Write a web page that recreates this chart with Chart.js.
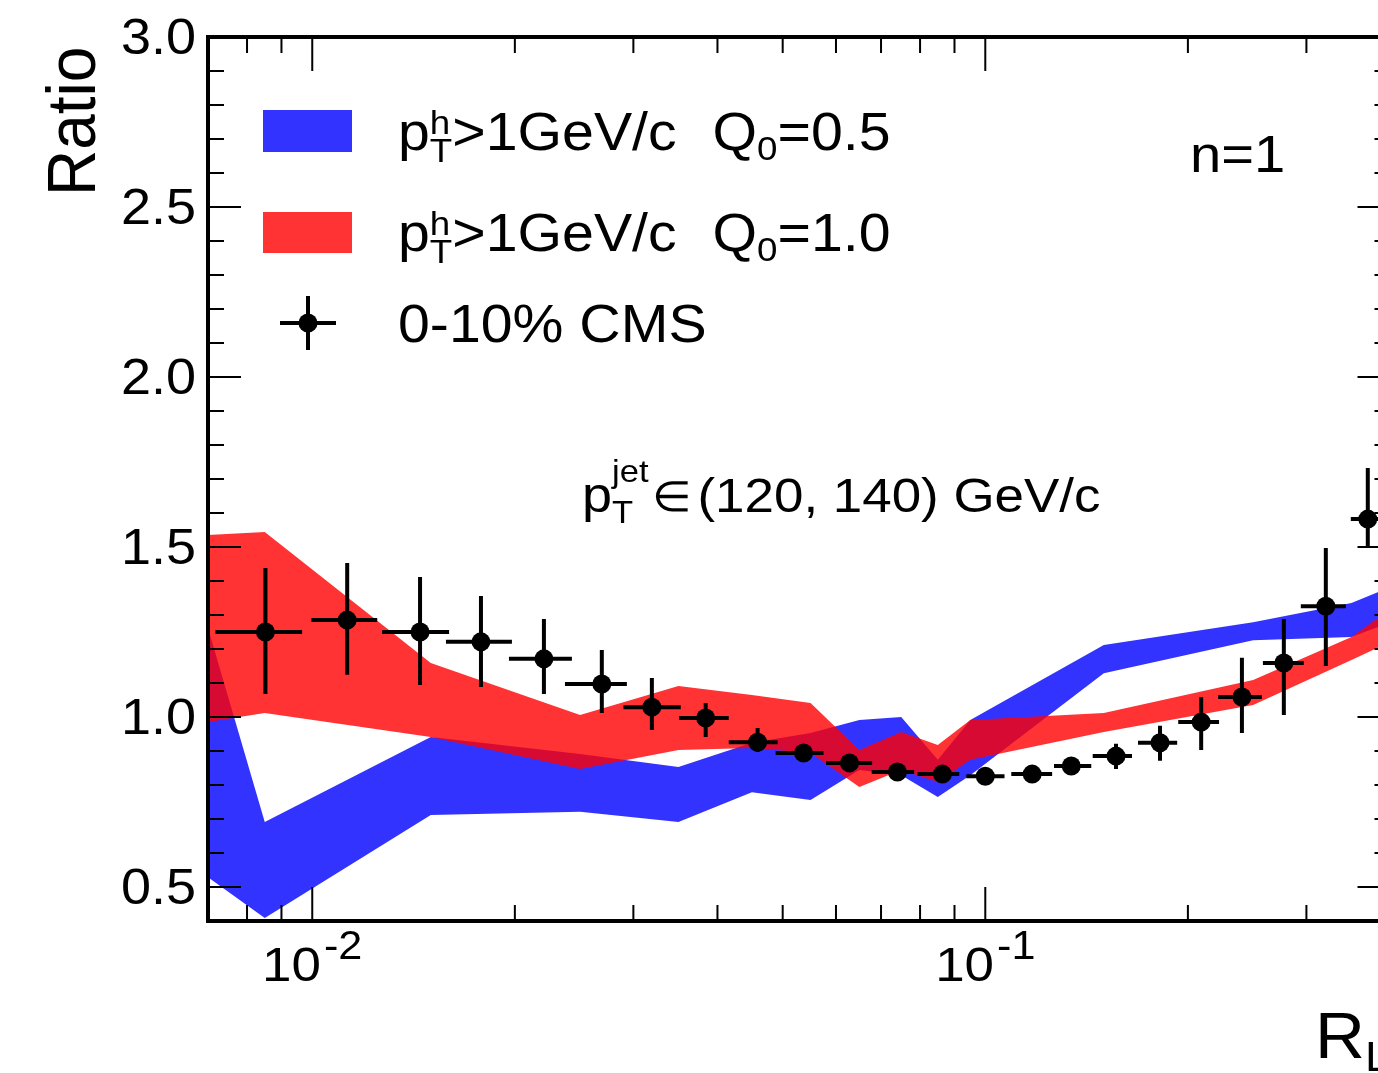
<!DOCTYPE html>
<html>
<head>
<meta charset="utf-8">
<script src="https://cdn.jsdelivr.net/npm/chart.js@4.4.0/dist/chart.umd.min.js"></script>
<style>
  html, body { margin: 0; padding: 0; overflow: hidden; background: #ffffff; }
  canvas { display: block; }
</style>
</head>
<body>
<canvas id="plot" width="1400" height="1073"></canvas>
<script>
// ---- CMS 0-10% data: bin centre, bin edges, ratio and error-bar ends ----
const cmsR      = [0.00852, 0.01127, 0.01446, 0.01781, 0.02209, 0.02693, 0.03196, 0.03842, 0.04589, 0.0537, 0.06284, 0.07404, 0.08636, 0.1, 0.1174, 0.1342, 0.1564, 0.1818, 0.2093, 0.2406, 0.2777, 0.3206, 0.3701];
const cmsRLo    = [0.00718, 0.00997, 0.0127, 0.0158, 0.0196, 0.02374, 0.0290, 0.03507, 0.04157, 0.0488, 0.0580, 0.0678, 0.0793, 0.0937, 0.1093, 0.1265, 0.1444, 0.1686, 0.1935, 0.2218, 0.2585, 0.2943, 0.3492];
const cmsRHi    = [0.00966, 0.01249, 0.01597, 0.0198, 0.02431, 0.02934, 0.03528, 0.04157, 0.04914, 0.0575, 0.0679, 0.0784, 0.0915, 0.1068, 0.1257, 0.1437, 0.1652, 0.1928, 0.2225, 0.2576, 0.2973, 0.3433, 0.3985];
const cmsRatio  = [1.250, 1.285, 1.250, 1.221, 1.171, 1.097, 1.029, 0.997, 0.926, 0.894, 0.865, 0.838, 0.832, 0.826, 0.832, 0.856, 0.885, 0.924, 0.985, 1.059, 1.159, 1.326, 1.582];
const cmsErrUp  = [1.438, 1.453, 1.412, 1.356, 1.288, 1.197, 1.115, 1.041, 0.968, 0.909, 0.880, 0.850, 0.844, 0.838, 0.844, 0.871, 0.921, 0.974, 1.059, 1.174, 1.288, 1.497, 1.732];
const cmsErrDn  = [1.068, 1.124, 1.094, 1.088, 1.068, 1.012, 0.962, 0.941, 0.897, 0.879, 0.850, 0.826, 0.820, 0.814, 0.820, 0.841, 0.847, 0.871, 0.903, 0.953, 1.006, 1.150, 1.500];

// ---- theory bands (p_T^h > 1 GeV/c) ----
const bandR     = [0.007, 0.0085, 0.015, 0.025, 0.035, 0.045, 0.055, 0.065, 0.075, 0.085, 0.095, 0.15, 0.25, 0.35, 0.4];
const q05Upper  = [1.262, 0.691, 0.941, 0.891, 0.853, 0.924, 0.953, 0.991, 1.000, 0.874, 0.991, 1.212, 1.279, 1.335, 1.382];
const q05Lower  = [0.529, 0.409, 0.712, 0.721, 0.691, 0.779, 0.756, 0.844, 0.829, 0.765, 0.829, 1.129, 1.226, 1.235, 1.279];
const q10Upper  = [1.535, 1.544, 1.159, 1.006, 1.091, 1.065, 1.041, 0.903, 0.956, 0.918, 0.991, 1.012, 1.109, 1.235, 1.318];
const q10Lower  = [0.985, 1.012, 0.941, 0.847, 0.903, 0.909, 0.894, 0.794, 0.844, 0.809, 0.874, 0.956, 1.035, 1.168, 1.221];

// ---- axis ticks ----
const yMajorTicks   = [0.5, 1.0, 1.5, 2.0, 2.5, 3.0];
const yTickLabels   = ['0.5', '1.0', '1.5', '2.0', '2.5', '3.0'];
const xMajorTicks   = [0.01, 0.1];
const xTickExponent = ['-2', '-1'];
const xMinorTicks   = [0.008, 0.009, 0.02, 0.03, 0.04, 0.05, 0.06, 0.07, 0.08, 0.09, 0.2, 0.3];

const BLUE = 'rgba(0,0,255,0.8)';
const RED  = 'rgba(255,0,0,0.8)';
const FONT = '"Liberation Sans", Arial, Helvetica, sans-serif';
const SX = 1.08; // horizontal text stretch

function textW(ctx, s, size) {
  ctx.save();
  ctx.font = size + 'px ' + FONT;
  const w = ctx.measureText(s).width * SX;
  ctx.restore();
  return w;
}
function drawText(ctx, s, x, y, size, align) {
  const w = textW(ctx, s, size);
  let x0 = x;
  if (align === 'right') x0 = x - w;
  else if (align === 'center') x0 = x - w / 2;
  ctx.save();
  ctx.font = size + 'px ' + FONT;
  ctx.fillStyle = '#000';
  ctx.textBaseline = 'alphabetic';
  ctx.translate(x0, y);
  ctx.scale(SX, 1);
  ctx.fillText(s, 0, 0);
  ctx.restore();
  return w;
}
// rich text made of runs: {t,size,dy} or stacked {sup,sub,size,supDy,subDy} or {gap}
function richWidth(ctx, runs) {
  let w = 0;
  for (const r of runs) {
    if (r.gap) w += r.gap;
    else if (r.sup !== undefined) w += Math.max(textW(ctx, r.sup, r.size), textW(ctx, r.sub, r.size));
    else w += textW(ctx, r.t, r.size);
  }
  return w;
}
function drawRich(ctx, runs, x, y) {
  let cx = x;
  for (const r of runs) {
    if (r.gap) { cx += r.gap; continue; }
    if (r.sup !== undefined) {
      const a = drawText(ctx, r.sup, cx, y + r.supDy, r.size, 'left');
      const b = drawText(ctx, r.sub, cx, y + r.subDy, r.size, 'left');
      cx += Math.max(a, b);
    } else {
      cx += drawText(ctx, r.t, cx, y + (r.dy || 0), r.size, 'left');
    }
  }
  return cx;
}

// Frame, ticks, error bars, legend and labels
const decorations = {
  id: 'decorations',
  afterDatasetsDraw(chart) {
    const ctx = chart.ctx;
    const xs = chart.scales.x, ys = chart.scales.y;
    const a = chart.chartArea;
    // error bars
    ctx.save();
    ctx.beginPath();
    ctx.rect(a.left, a.top, a.right - a.left, a.bottom - a.top);
    ctx.clip();
    ctx.strokeStyle = '#000';
    ctx.lineWidth = 4;
    ctx.beginPath();
    for (let i = 0; i < cmsR.length; i++) {
      const px = xs.getPixelForValue(cmsR[i]);
      const py = ys.getPixelForValue(cmsRatio[i]);
      ctx.moveTo(xs.getPixelForValue(cmsRLo[i]), py);
      ctx.lineTo(xs.getPixelForValue(cmsRHi[i]), py);
      ctx.moveTo(px, ys.getPixelForValue(cmsErrUp[i]));
      ctx.lineTo(px, ys.getPixelForValue(cmsErrDn[i]));
    }
    ctx.stroke();
    ctx.restore();
  },
  afterDraw(chart) {
    const ctx = chart.ctx;
    const xs = chart.scales.x, ys = chart.scales.y;
    const a = chart.chartArea;
    ctx.save();
    ctx.strokeStyle = '#000';
    // ticks
    ctx.lineWidth = 2;
    ctx.beginPath();
    for (let k = 5; k <= 30; k++) {
      const v = k / 10;
      const py = ys.getPixelForValue(v);
      const len = (k % 5 === 0) ? 33 : 16;
      ctx.moveTo(a.left, py); ctx.lineTo(a.left + len, py);
      ctx.moveTo(a.right, py); ctx.lineTo(a.right - len, py);
    }
    for (const v of xMajorTicks) {
      const px = xs.getPixelForValue(v);
      ctx.moveTo(px, a.bottom); ctx.lineTo(px, a.bottom - 34);
      ctx.moveTo(px, a.top); ctx.lineTo(px, a.top + 34);
    }
    for (const v of xMinorTicks) {
      const px = xs.getPixelForValue(v);
      ctx.moveTo(px, a.bottom); ctx.lineTo(px, a.bottom - 16);
      ctx.moveTo(px, a.top); ctx.lineTo(px, a.top + 16);
    }
    ctx.stroke();
    // frame
    ctx.lineWidth = 4;
    ctx.strokeRect(a.left, a.top, a.right - a.left, a.bottom - a.top);
    ctx.restore();

    // y tick labels
    yMajorTicks.forEach((v, i) => {
      drawText(ctx, yTickLabels[i], 196, ys.getPixelForValue(v) + 17, 50, 'right');
    });
    // x tick labels 10^n
    xMajorTicks.forEach((v, i) => {
      const runs = [{ t: '10', size: 49 }, { gap: 3 }, { t: xTickExponent[i], size: 40, dy: -22 }];
      const w = richWidth(ctx, runs);
      drawRich(ctx, runs, xs.getPixelForValue(v) - w / 2, 981);
    });

    // axis titles
    ctx.save();
    ctx.font = '64px ' + FONT;
    ctx.fillStyle = '#000';
    ctx.translate(95, 196);
    ctx.scale(SX, 1);
    ctx.rotate(-Math.PI / 2);
    ctx.fillText('Ratio', 0, 0);
    ctx.restore();
    drawRich(ctx, [{ t: 'R', size: 64 }, { t: 'L', size: 42, dy: 13 }], 1315, 1058);

    // legend
    ctx.save();
    ctx.fillStyle = BLUE;
    ctx.fillRect(263, 110, 89, 42);
    ctx.fillStyle = RED;
    ctx.fillRect(263, 212, 89, 41);
    ctx.strokeStyle = '#000';
    ctx.lineWidth = 4;
    ctx.beginPath();
    ctx.moveTo(280, 323); ctx.lineTo(336, 323);
    ctx.moveTo(308, 296); ctx.lineTo(308, 350);
    ctx.stroke();
    ctx.fillStyle = '#000';
    ctx.beginPath();
    ctx.arc(308, 323, 9.5, 0, Math.PI * 2);
    ctx.fill();
    ctx.restore();

    const legendRuns = (q) => [
      { t: 'p', size: 53 },
      { sup: 'h', sub: 'T', size: 34, supDy: -16, subDy: 12 },
      { t: '>1GeV/c', size: 53 },
      { gap: 36 },
      { t: 'Q', size: 53 },
      { t: '0', size: 34, dy: 10 },
      { t: '=' + q, size: 53 }
    ];
    drawRich(ctx, legendRuns('0.5'), 398, 150);
    drawRich(ctx, legendRuns('1.0'), 398, 251);
    drawText(ctx, '0-10% CMS', 398, 342, 53, 'left');

    // annotations
    drawText(ctx, 'n=1', 1190, 172, 52, 'left');
    drawRich(ctx, [
      { t: 'p', size: 50 },
      { sup: 'jet', sub: 'T', size: 32, supDy: -30, subDy: 11 },
      { gap: 3 },
      { t: '\u2208', size: 42, dy: -1 },
      { gap: 6 },
      { t: '(120, 140) GeV/c', size: 49 }
    ], 582, 512);
  }
};

const pts = (xs, ys) => xs.map((x, i) => ({ x: x, y: ys[i] }));
const bandStyle = { borderWidth: 0, borderColor: 'rgba(0,0,0,0)', pointRadius: 0, tension: 0 };

new Chart(document.getElementById('plot').getContext('2d'), {
  type: 'line',
  data: {
    datasets: [
      { label: '0-10% CMS', type: 'scatter', data: pts(cmsR, cmsRatio), pointRadius: 9.5,
        pointBackgroundColor: '#000', pointBorderWidth: 0, pointBorderColor: '#000', showLine: false },
      Object.assign({ label: 'Q0=1.0 upper', data: pts(bandR, q10Upper), fill: '+1', backgroundColor: RED }, bandStyle),
      Object.assign({ label: 'Q0=1.0 lower', data: pts(bandR, q10Lower), fill: false }, bandStyle),
      Object.assign({ label: 'Q0=0.5 upper', data: pts(bandR, q05Upper), fill: '+1', backgroundColor: BLUE }, bandStyle),
      Object.assign({ label: 'Q0=0.5 lower', data: pts(bandR, q05Lower), fill: false }, bandStyle)
    ]
  },
  options: {
    responsive: false,
    animation: false,
    events: [],
    layout: { padding: { top: 37, right: 7, left: 0, bottom: 0 } },
    plugins: { legend: { display: false }, tooltip: { enabled: false } },
    scales: {
      x: {
        type: 'logarithmic', min: 0.007, max: 0.4,
        ticks: { display: false }, grid: { display: false, drawTicks: false }, border: { display: false },
        afterFit(s) { s.height = 152; }
      },
      y: {
        type: 'linear', min: 0.4, max: 3.0,
        ticks: { display: false }, grid: { display: false, drawTicks: false }, border: { display: false },
        afterFit(s) { s.width = 208; }
      }
    }
  },
  plugins: [decorations]
});
</script>
</body>
</html>
